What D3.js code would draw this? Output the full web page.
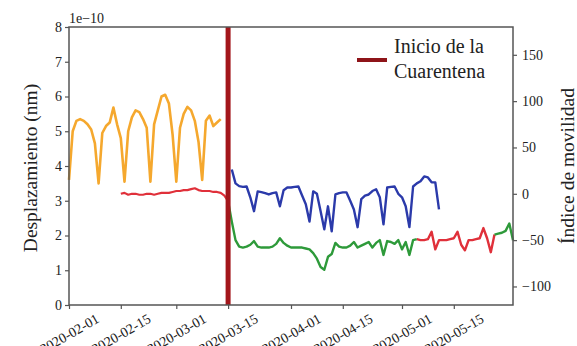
<!DOCTYPE html>
<html><head><meta charset="utf-8">
<script src="https://cdn.jsdelivr.net/npm/d3@7"></script>
<style>
body{margin:0;background:#fff}
svg{display:block}
text{font-family:"Liberation Serif","Times New Roman",serif;fill:#222}
</style>
</head><body><svg id="c" width="577" height="346"></svg>
<script>
// ---- data ----
const xTickLabels = ["2020-02-01","2020-02-15","2020-03-01","2020-03-15","2020-04-01","2020-04-15","2020-05-01","2020-05-15"];
const leftTicks = [0,1,2,3,4,5,6,7,8];
const rightTicks = [-100,-50,0,50,100,150];
const xDomain = ["2020-02-01","2020-05-31"];
const quarantineDate = "2020-03-15";
const legendLines = ["Inicio de la","Cuarentena"];

// displacement (left axis, x 1e-10)
const orangeStart = "2020-02-01";
const orangeValues = [3.6,5.0,5.3,5.35,5.3,5.2,5.05,4.65,3.5,4.95,5.15,5.25,5.68,5.2,4.8,3.55,5.0,5.4,5.6,5.55,5.35,5.1,3.55,5.2,5.6,6.0,6.05,5.8,4.9,3.55,5.1,5.5,5.7,5.6,5.3,4.7,3.6,5.3,5.45,5.15,5.25,5.35];
const blueStart = "2020-03-16";
const blueValues = [3.9,3.5,3.42,3.4,3.41,3.1,2.7,3.27,3.25,3.22,3.18,3.22,3.24,2.84,3.3,3.38,3.38,3.4,3.41,3.15,2.9,2.4,3.27,3.2,2.7,2.18,2.84,2.12,3.18,3.22,3.24,3.24,3.0,2.75,2.24,3.05,3.15,3.18,3.28,3.33,3.1,2.32,3.38,3.4,3.41,3.2,3.1,2.84,2.24,3.41,3.5,3.56,3.7,3.67,3.53,3.53,2.75];

// mobility index (right axis)
const redPreStart = "2020-02-15";
const redPreValues = [0,1,-1,0,0,-1,-1,0,0,-1,0,1,1,1,2,3,3,4,4,5,6,4,3,3,3,2,2,1,-2,-8];
const greenStart = "2020-03-15";
const greenValues = [-8,-30,-50,-57,-58,-57,-55,-51,-57,-58,-58,-58,-57,-54,-48,-53,-56,-58,-58,-58,-58,-59,-60,-64,-70,-79,-82,-68,-65,-53,-57,-58,-58,-56,-52,-58,-56,-54,-52,-58,-53,-50,-66,-51,-52,-54,-50,-60,-52,-66,-50,-49];
const redPostStart = "2020-05-05";
const redPostValues = [-49,-50,-50,-49,-41,-60,-50,-50,-50,-49,-48,-41,-55,-61,-50,-50,-49,-48,-37,-48,-63,-44];
const greenEndStart = "2020-05-26";
const greenEndValues = [-44,-43,-42,-40,-32,-50];

// ---- chart ----
const parse = d3.utcParse("%Y-%m-%d");
const DAY = 86400000;
const toSeries = (start, vals) => vals.map((v,i)=>({date:new Date(parse(start).getTime()+i*DAY), v}));

const L=69, R=513, T=27, B=305;
const svg = d3.select("#c");
const x = d3.scaleUtc().domain(xDomain.map(parse)).range([L,R]);
const yL = d3.scaleLinear().domain([0,8]).range([B,T]);
const yR = d3.scaleLinear().domain([-120,180]).range([B,T]);

const lineL = d3.line().x(d=>x(d.date)).y(d=>yL(d.v));
const lineR = d3.line().x(d=>x(d.date)).y(d=>yR(d.v));

const g = svg.append("g");
function draw(data, gen, color, w){
  g.append("path").datum(data).attr("d",gen).attr("fill","none")
   .attr("stroke",color).attr("stroke-width",w).attr("stroke-linejoin","round");
}
draw(toSeries(orangeStart,orangeValues), lineL, "#f5a82e", 2.6);
draw(toSeries(blueStart,blueValues), lineL, "#2b3aaa", 2.4);
draw(toSeries(redPreStart,redPreValues), lineR, "#e0303a", 2.2);
draw(toSeries(greenStart,greenValues), lineR, "#2e9a3a", 2.4);
draw(toSeries(redPostStart,redPostValues), lineR, "#e0303a", 2.4);
draw(toSeries(greenEndStart,greenEndValues), lineR, "#2e9a3a", 2.4);

// quarantine line
svg.append("line").attr("x1",x(parse(quarantineDate))).attr("x2",x(parse(quarantineDate)))
  .attr("y1",T).attr("y2",B).attr("stroke","#a3161b").attr("stroke-width",5);

// frame
svg.append("rect").attr("x",L).attr("y",T).attr("width",R-L).attr("height",B-T)
  .attr("fill","none").attr("stroke","#555").attr("stroke-width",1.5);

// axes
const styleAxis = sel => { sel.select(".domain").remove(); sel.selectAll("line").attr("stroke","#555").attr("stroke-width",1.2); sel.selectAll("text").style("font-size","14px").attr("fill","#222"); };
svg.append("g").attr("transform",`translate(${L},0)`)
  .call(d3.axisLeft(yL).tickValues(leftTicks).tickSize(4).tickPadding(3).tickFormat(d3.format("d")))
  .call(styleAxis);
svg.append("g").attr("transform",`translate(${R},0)`)
  .call(d3.axisRight(yR).tickValues(rightTicks).tickSize(4).tickPadding(5).tickFormat(d=>String(d).replace("-","\u2212")))
  .call(styleAxis);
const xa = svg.append("g").attr("transform",`translate(0,${B})`)
  .call(d3.axisBottom(x).tickValues(xTickLabels.map(parse)).tickSize(4).tickFormat(d3.utcFormat("%Y-%m-%d")))
  .call(styleAxis);
xa.selectAll("text").attr("y",null).attr("dy",null)
  .attr("text-anchor","middle").attr("dominant-baseline","central")
  .attr("transform","translate(0,29) rotate(-30)");

// offset text
svg.append("text").attr("x",L).attr("y",23).style("font-size","14px").text("1e\u221210");

// axis titles
svg.append("text").attr("transform","translate(30,168) rotate(-90)")
  .attr("text-anchor","middle").attr("dominant-baseline","central").style("font-size","19.5px")
  .text("Desplazamiento (nm)");
svg.append("text").attr("transform","translate(567,166) rotate(-90)")
  .attr("text-anchor","middle").attr("dominant-baseline","central").style("font-size","19.5px")
  .text("Índice de movilidad");

// legend
svg.append("line").attr("x1",357).attr("x2",387).attr("y1",60).attr("y2",60)
  .attr("stroke","#8e1419").attr("stroke-width",4);
legendLines.forEach((t,i)=>{
  svg.append("text").attr("x",394).attr("y",53+i*25).style("font-size","20px").text(t);
});
</script>
</body></html>
